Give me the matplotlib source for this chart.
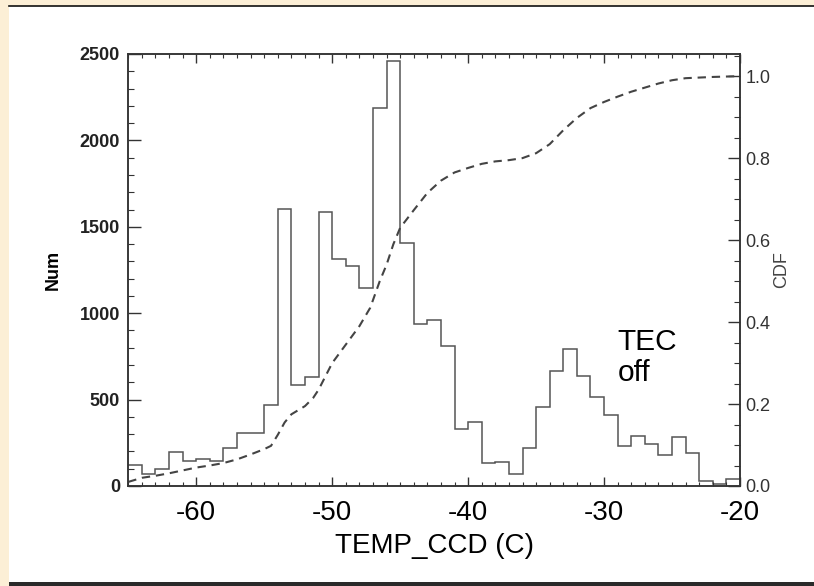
import numpy as np
import matplotlib
matplotlib.use('Agg')
import matplotlib.pyplot as plt
from matplotlib.patches import Rectangle
from matplotlib.lines import Line2D
from matplotlib.ticker import MultipleLocator, FormatStrFormatter

plt.rcParams['font.family'] = ['Liberation Sans', 'DejaVu Sans']
plt.rcParams['axes.unicode_minus'] = False

# histogram of TEMP_CCD, 1 degree bins from -65 to -20
bin_lo = -65
bin_hi = -20
counts = [121, 68, 96, 199, 147, 156, 147, 222, 309, 309, 471,
          1601, 584, 629, 1584, 1316, 1275, 1144, 2186, 2458,
          1408, 939, 961, 812, 330, 372, 131, 137, 69, 222, 455,
          667, 791, 638, 517, 409, 233, 291, 241, 181, 284, 189,
          27, 12, 38]

# cumulative distribution (dashed curve, right axis)
cdf_t = [-65, -64, -63, -62, -61, -60, -59, -58, -57, -56, -55, -54.5,
         -54, -53.5, -53, -52, -51.4, -51, -50, -49, -48, -47.2, -46.5,
         -46, -45.5, -45, -44, -43, -42, -41, -40, -39, -38, -37, -36,
         -35, -34, -33, -32, -31, -30, -29, -28, -27, -26, -25, -24,
         -22, -20]
cdf_v = [0.01, 0.02, 0.025, 0.031, 0.038, 0.045, 0.050, 0.056, 0.065,
         0.077, 0.09, 0.098, 0.125, 0.155, 0.175, 0.195, 0.215, 0.235,
         0.30, 0.345, 0.39, 0.435, 0.50, 0.54, 0.59, 0.63, 0.673, 0.715,
         0.745, 0.765, 0.776, 0.786, 0.792, 0.795, 0.80, 0.812, 0.834,
         0.868, 0.898, 0.922, 0.937, 0.95, 0.962, 0.972, 0.982, 0.99,
         0.995, 0.998, 1.0]

W, H = 814, 586
fig = plt.figure(figsize=(W / 100, H / 100), dpi=100)
fig.patch.set_facecolor('#fcefd6')

# slide frame: white panel, thin top rule, dark bottom bar
fig.add_artist(Rectangle((9 / W, 4 / H), 1 - 9 / W, 576 / H,
                         transform=fig.transFigure, facecolor='white',
                         edgecolor='none', zorder=-10))
fig.add_artist(Line2D([9 / W, 1], [1 - 5.5 / H, 1 - 5.5 / H],
                      transform=fig.transFigure, color='#111111', lw=1.2))
fig.add_artist(Rectangle((9 / W, 0), 1 - 9 / W, 4 / H,
                         transform=fig.transFigure, facecolor='#2a2a2a',
                         edgecolor='none'))

ax = fig.add_axes([128.3 / W, 1 - 486 / H, (740 - 128.3) / W, (486 - 54) / H])
ax.patch.set_alpha(0)

edges = np.arange(bin_lo, bin_hi + 1, 1)
ax.stairs(counts, edges, baseline=None, color='#555555', lw=1.1)

ax.set_xlim(bin_lo, bin_hi)
ax.set_ylim(0, 2500)
ax.xaxis.set_major_locator(MultipleLocator(10))
ax.xaxis.set_minor_locator(MultipleLocator(1))
ax.yaxis.set_major_locator(MultipleLocator(500))
ax.yaxis.set_minor_locator(MultipleLocator(100))

ax.tick_params(axis='x', which='both', direction='in', top=True,
               colors='#333333', labelcolor='black', labelsize=20, pad=10)
ax.tick_params(axis='x', which='major', length=6.8, width=1)
ax.tick_params(axis='x', which='minor', length=3.2, width=0.8)
ax.tick_params(axis='y', which='both', direction='in', right=False,
               colors='#333333', labelcolor='#222222', labelsize=13, pad=6)
ax.tick_params(axis='y', which='major', length=9, width=1)
ax.tick_params(axis='y', which='minor', length=4.3, width=0.8)
for lab in ax.get_yticklabels():
    lab.set_fontweight('bold')

ax.set_xlabel('TEMP_CCD (C)', fontsize=20, labelpad=5)
ax.set_ylabel('Num', fontsize=13, fontweight='bold', labelpad=13)

for s in ax.spines.values():
    s.set_color('#333333')
    s.set_linewidth(1.1)

ax2 = ax.twinx()
ax2.plot(cdf_t, cdf_v, color='#444444', lw=1.5, dashes=(4, 2.8))
ax2.set_ylim(0, 1.054)
ax2.yaxis.set_major_locator(MultipleLocator(0.2))
ax2.yaxis.set_minor_locator(MultipleLocator(0.05))
ax2.yaxis.set_major_formatter(FormatStrFormatter('%.1f'))
ax2.tick_params(axis='y', which='both', direction='in', colors='#333333',
                labelcolor='#333333', labelsize=13, pad=4)
ax2.tick_params(axis='y', which='major', length=9, width=1)
ax2.tick_params(axis='y', which='minor', length=4.3, width=0.8)
ax2.set_ylabel('CDF', fontsize=13, color='#444444', labelpad=2)
for s in ax2.spines.values():
    s.set_color('#333333')
    s.set_linewidth(1.1)

ax.text(-29, 915, 'TEC\noff', fontsize=21.5, va='top', ha='left',
        linespacing=1.15)

fig.savefig('out.png', dpi=100, facecolor=fig.get_facecolor())
